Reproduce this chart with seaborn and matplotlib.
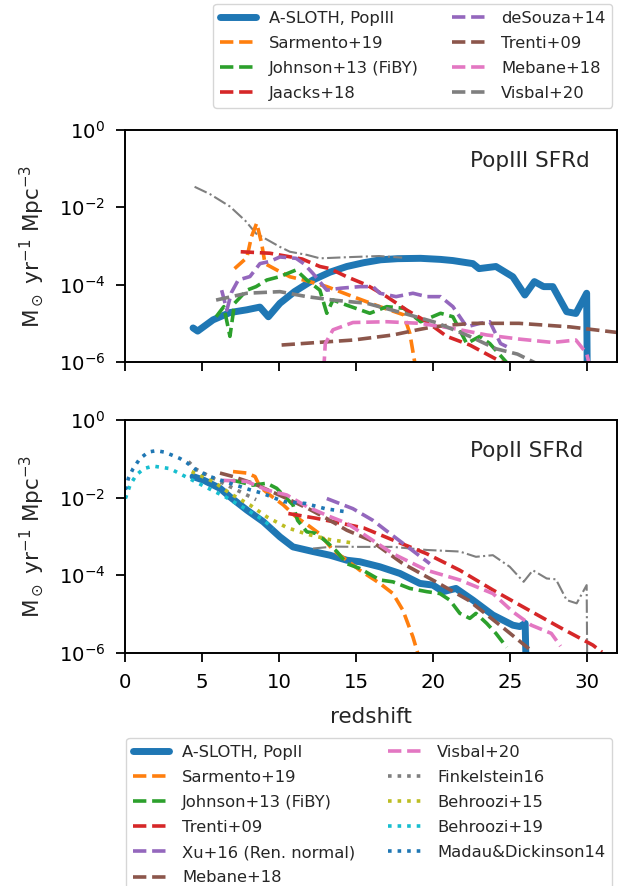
import matplotlib
matplotlib.use("Agg")
import matplotlib.pyplot as plt
import seaborn as sns
import numpy as np

sns.set_style("ticks")
plt.rcParams['font.family'] = ['DejaVu Sans']

C = sns.color_palette("tab10")

# ---------------- Pop III panel data ----------------
aslothIII_z = [4.4, 4.7, 5.7, 6.8, 7.9, 8.75, 9.3, 10.05, 11.0, 12.2, 13.3, 14.4, 15.5, 16.6, 17.7, 19.2,
               20.5, 21.3, 22.6, 23.0, 24.1, 25.2, 25.98, 26.6, 27.2, 27.8, 28.7, 29.3, 30.0, 30.05]
aslothIII_v = [7.6e-6, 6.3e-6, 1.23e-5, 1.9e-5, 2.24e-5, 2.63e-5, 1.48e-5, 3.3e-5, 6.6e-5, 1.32e-4, 2.1e-4,
               2.95e-4, 3.7e-4, 4.4e-4, 4.7e-4, 4.8e-4, 4.5e-4, 4.2e-4, 3.5e-4, 2.6e-4, 2.95e-4, 1.6e-4,
               5.4e-5, 1.2e-4, 8.9e-5, 8.9e-5, 2.0e-5, 1.8e-5, 6.0e-5, 1e-7]

sarmIII_z = [7.1, 7.9, 8.2, 8.54, 8.86, 9.08, 9.84, 10.7, 11.8, 13.1, 14.8, 16.55, 18.1, 18.5, 18.9]
sarmIII_v = [2.6e-4, 5.0e-4, 1.74e-3, 3.9e-3, 1.17e-3, 3.5e-4, 2.4e-4, 1.6e-4, 1.26e-4, 8.9e-5, 4.9e-5,
             2.7e-5, 1.66e-5, 5.5e-6, 6.3e-7]

johnIII_z = [5.9, 6.4, 6.8, 7.1, 7.9, 8.5, 9.2, 10.05, 11.1, 11.8, 12.65, 13.1, 13.5, 14.4, 15.9, 17.0, 18.1,
             19.2, 20.5, 21.3, 22.2, 23.05, 23.7, 25.0]
johnIII_v = [1.48e-5, 2.7e-5, 4.6e-6, 3.3e-5, 7.2e-5, 8.9e-5, 1.32e-4, 1.62e-4, 2.4e-4, 1.32e-4, 7.2e-5,
             1.82e-5, 4.0e-5, 2.95e-5, 1.82e-5, 2.7e-5, 2.45e-5, 1.1e-5, 1.82e-5, 1.48e-5, 3.0e-6, 4.6e-6,
             3.0e-6, 7.9e-7]

jaacksIII_z = [7.5, 9.4, 11.5, 12.65, 13.3, 14.4, 15.7, 17.0, 18.3, 19.6, 20.9, 22.4, 24.7]
jaacksIII_v = [7.1e-4, 6.5e-4, 4.6e-4, 2.95e-4, 2.6e-4, 1.6e-4, 9.8e-5, 4.9e-5, 2.2e-5, 1.1e-5, 4.6e-6,
               2.75e-6, 8.9e-7]

desouzaIII_z = [6.26, 6.6, 6.9, 7.34, 8.1, 8.75, 9.4, 10.05, 11.1, 11.6, 12.2, 13.1, 14.0, 15.25, 16.1, 16.55,
                17.6, 18.7, 19.6, 20.5, 21.3, 22.2, 23.05, 23.7, 24.4, 24.8]
desouzaIII_v = [7.2e-5, 2.2e-5, 6.3e-5, 1.32e-4, 1.62e-4, 3.5e-4, 4.0e-4, 5.2e-4, 4.8e-4, 3.5e-4, 1.95e-4,
                7.2e-5, 8.1e-5, 8.9e-5, 8.9e-5, 6.0e-5, 4.9e-5, 6.0e-5, 4.9e-5, 4.9e-5, 2.7e-5, 8.1e-6,
                1.0e-5, 1.1e-5, 3.0e-6, 2.5e-6]

trentiIII_z = [10.16, 12.5, 14.82, 17.4, 19.0, 20.0, 21.3, 22.6, 25.6, 28.9, 32.0]
trentiIII_v = [2.75e-6, 3.2e-6, 3.7e-6, 5.0e-6, 6.8e-6, 8.1e-6, 9.1e-6, 1.0e-5, 1.0e-5, 8.1e-6, 5.8e-6]

mebaneIII_z = [12.9, 13.0, 13.5, 14.8, 17.0, 19.15, 21.3, 23.5, 25.65, 27.8, 29.3, 30.0, 30.2]
mebaneIII_v = [6.3e-7, 3.0e-6, 6.8e-6, 1.05e-5, 1.1e-5, 1.0e-5, 7.4e-6, 5.0e-6, 3.9e-6, 3.2e-6, 3.7e-6,
               1.66e-6, 7.9e-7]

visbalIII_z = [5.9, 7.9, 10.05, 11.8, 13.5, 15.7, 18.1, 20.2, 22.4, 24.1, 25.5, 26.8]
visbalIII_v = [4.0e-5, 6.0e-5, 6.6e-5, 4.9e-5, 4.0e-5, 3.3e-5, 1.82e-5, 1.05e-5, 4.6e-6, 2.2e-6, 1.6e-6, 8.9e-7]

ddIII_z = [4.5, 5.5, 6.8, 7.8, 8.5, 9.3, 10.05, 10.7, 11.8, 12.65, 14.8, 16.5, 18.0]
ddIII_v = [3.4e-2, 2.2e-2, 1.05e-2, 4.5e-3, 2.1e-3, 1.4e-3, 9.5e-4, 7.1e-4, 5.9e-4, 4.8e-4, 5.2e-4, 5.5e-4, 5.0e-4]

# ---------------- Pop II panel data ----------------
aslothII_z = [4.4, 5.1, 6.15, 6.8, 7.9, 8.97, 10.05, 10.9, 12.2, 13.3, 14.4, 15.25, 16.55, 17.85, 19.15, 20.0,
              20.67, 21.5, 22.6, 23.9, 25.2, 25.65, 26.0, 26.1]
aslothII_v = [3.5e-2, 2.8e-2, 1.74e-2, 1.05e-2, 4.8e-3, 2.4e-3, 9.8e-4, 5.4e-4, 4.1e-4, 3.3e-4, 2.45e-4,
              2.24e-4, 1.66e-4, 1.12e-4, 6.2e-5, 5.6e-5, 3.8e-5, 4.6e-5, 2.3e-5, 9.5e-6, 5.2e-6, 4.8e-6,
              5.8e-6, 1e-7]

sarmII_z = [7.0, 7.9, 8.43, 8.75, 9.4, 10.27, 11.1, 12.0, 12.6, 13.5, 14.4, 15.25, 16.55, 17.4, 18.05, 18.7, 19.05]
sarmII_v = [4.7e-2, 4.3e-2, 3.5e-2, 1.9e-2, 1.17e-2, 6.5e-3, 3.2e-3, 1.8e-3, 1.2e-3, 4.5e-4, 2.45e-4, 1.35e-4,
            6.2e-5, 3.4e-5, 1.26e-5, 2.6e-6, 8.9e-7]

johnII_z = [7.0, 8.3, 9.2, 9.84, 10.9, 11.2, 11.8, 12.4, 13.1, 13.75, 14.4, 15.25, 16.55, 17.4, 18.5, 19.6,
            20.45, 21.1, 21.75, 22.4, 22.8, 23.5, 24.1, 24.8]
johnII_v = [2.8e-2, 2.1e-2, 2.35e-2, 1.74e-2, 6.5e-3, 2.6e-3, 1.32e-3, 1.2e-3, 7.2e-4, 4.1e-4, 2.0e-4, 1.5e-4,
            7.6e-5, 6.8e-5, 4.6e-5, 3.8e-5, 3.4e-5, 2.3e-5, 1.05e-5, 7.8e-6, 1.05e-5, 5.8e-6, 3.2e-6, 1.4e-6]

trentiII_z = [10.6, 12.4, 14.0, 15.5, 17.4, 19.6, 21.75, 23.9, 26.05, 28.2, 30.4, 31.0]
trentiII_v = [3.9e-3, 2.95e-3, 2.2e-3, 1.66e-3, 8.1e-4, 3.6e-4, 1.35e-4, 4.2e-5, 1.4e-5, 4.7e-6, 1.6e-6, 1.05e-6]

xuII_z = [13.1, 14.8, 16.1, 17.3, 18.5, 19.8]
xuII_v = [9.5e-3, 5.2e-3, 2.6e-3, 1.12e-3, 4.9e-4, 2.0e-4]

mebaneII_z = [6.15, 7.0, 8.3, 10.5, 11.9, 13.1, 14.4, 15.9, 18.05, 20.2, 22.3, 24.5, 26.5]
mebaneII_v = [4.3e-2, 3.5e-2, 2.35e-2, 9.5e-3, 5.2e-3, 2.9e-3, 1.45e-3, 8.1e-4, 2.0e-4, 6.8e-5, 2.3e-5,
              4.7e-6, 1.07e-6]

visbalII_z = [6.3, 7.9, 9.2, 10.5, 11.8, 13.1, 14.4, 15.25, 17.4, 19.6, 21.75, 23.9, 25.2, 26.4, 27.7, 28.3]
visbalII_v = [2.8e-2, 2.6e-2, 1.58e-2, 1.17e-2, 5.9e-3, 3.5e-3, 2.2e-3, 1.32e-3, 3.6e-4, 1.35e-4, 7.6e-5,
              3.4e-5, 1.15e-5, 5.2e-6, 3.2e-6, 1.5e-6]

finkel_z = [4.1, 4.6, 5.5, 6.5, 7.5, 8.5]
finkel_v = [8.5e-2, 5.4e-2, 3.5e-2, 2.2e-2, 1.4e-2, 8.9e-3]

behr15_z = [4.31, 5.72, 6.8, 8.1, 9.2, 10.5, 11.8, 13.3, 14.7]
behr15_v = [4.7e-2, 2.6e-2, 1.29e-2, 6.5e-3, 3.2e-3, 1.7e-3, 1.15e-3, 8.3e-4, 6.9e-4]

behr19_z = [0.0, 0.3, 0.7, 1.2, 1.8, 2.9, 3.9, 5.2, 6.5, 7.8, 9.0, 9.6]
behr19_v = [9.5e-3, 2.1e-2, 3.8e-2, 5.6e-2, 6.5e-2, 5.6e-2, 3.5e-2, 1.9e-2, 1.05e-2, 5.2e-3, 2.6e-3, 1.6e-3]

madau_z = [0.0, 0.2, 0.5, 0.95, 1.5, 2.0, 2.5, 3.0, 3.55, 4.0, 4.63, 5.5, 6.8, 8.1, 8.9, 10.3, 11.7, 13.0, 14.4]
madau_v = [1.6e-2, 3.2e-2, 5.6e-2, 1.02e-1, 1.5e-1, 1.62e-1, 1.5e-1, 1.26e-1, 1.02e-1, 7.9e-2, 5.1e-2,
           3.5e-2, 2.35e-2, 1.6e-2, 1.3e-2, 7.9e-3, 7.1e-3, 5.2e-3, 4.3e-3]

ddII_z = [12.2, 13.5, 15.25, 17.4, 19.6, 21.75, 22.8, 23.9, 25.0, 25.9, 26.5, 27.4, 28.0, 28.7, 29.35, 30.0, 30.05]
ddII_v = [4.9e-4, 5.5e-4, 5.4e-4, 5.4e-4, 4.5e-4, 4.1e-4, 3.0e-4, 3.3e-4, 1.66e-4, 6.8e-5, 1.35e-4, 8.3e-5,
          7.9e-5, 2.3e-5, 1.9e-5, 5.6e-5, 1e-7]

ytick_vals = [1e-6, 1e-4, 1e-2, 1e0]
xtick_vals = [0, 5, 10, 15, 20, 25, 30]

# ---------------- figure ----------------
W, H = 628, 886
fig = plt.figure(figsize=(W / 100, H / 100), dpi=100)
ax1 = fig.add_axes([125.4 / W, 1 - 362 / H, 492 / W, 232 / H])
ax2 = fig.add_axes([125.4 / W, 1 - 653 / H, 492 / W, 233 / H], sharex=ax1)

LW_D = 2.6
def line(ax, z, v, color, ls, lw, label=None, **kw):
    sns.lineplot(x=z, y=v, ax=ax, color=color, linestyle=ls, linewidth=lw, sort=False,
                 estimator=None, label=label, **kw)

# top panel
line(ax1, aslothIII_z, aslothIII_v, C[0], '-', 5, 'A-SLOTH, PopIII')
line(ax1, ddIII_z, ddIII_v, C[7], '-.', 1.5)
line(ax1, sarmIII_z, sarmIII_v, C[1], '--', LW_D, 'Sarmento+19')
line(ax1, johnIII_z, johnIII_v, C[2], '--', LW_D, 'Johnson+13 (FiBY)')
line(ax1, jaacksIII_z, jaacksIII_v, C[3], '--', LW_D, 'Jaacks+18')
line(ax1, desouzaIII_z, desouzaIII_v, C[4], '--', LW_D, 'deSouza+14')
line(ax1, trentiIII_z, trentiIII_v, C[5], '--', LW_D, 'Trenti+09')
line(ax1, mebaneIII_z, mebaneIII_v, C[6], '--', LW_D, 'Mebane+18')
line(ax1, visbalIII_z, visbalIII_v, C[7], '--', LW_D, 'Visbal+20')

# bottom panel
line(ax2, aslothII_z, aslothII_v, C[0], '-', 5, 'A-SLOTH, PopII')
line(ax2, ddII_z, ddII_v, C[7], '-.', 1.5)
line(ax2, sarmII_z, sarmII_v, C[1], '--', LW_D, 'Sarmento+19')
line(ax2, johnII_z, johnII_v, C[2], '--', LW_D, 'Johnson+13 (FiBY)')
line(ax2, trentiII_z, trentiII_v, C[3], '--', LW_D, 'Trenti+09')
line(ax2, xuII_z, xuII_v, C[4], '--', LW_D, 'Xu+16 (Ren. normal)')
line(ax2, mebaneII_z, mebaneII_v, C[5], '--', LW_D, 'Mebane+18')
line(ax2, visbalII_z, visbalII_v, C[6], '--', LW_D, 'Visbal+20')
line(ax2, finkel_z, finkel_v, C[7], ':', LW_D, 'Finkelstein16')
line(ax2, behr15_z, behr15_v, C[8], ':', LW_D, 'Behroozi+15')
line(ax2, behr19_z, behr19_v, C[9], ':', LW_D, 'Behroozi+19')
line(ax2, madau_z, madau_v, C[0], ':', LW_D, 'Madau&Dickinson14')

ylab = r'M$_\odot$ yr$^{-1}$ Mpc$^{-3}$'
legs = {}
for ax, txt in [(ax1, 'PopIII SFRd'), (ax2, 'PopII SFRd')]:
    ax.set_yscale('log')
    ax.set_ylim(1e-6, 1e0)
    ax.set_xlim(0, 32)
    ax.set_yticks(ytick_vals)
    ax.minorticks_off()
    ax.set_xticks(xtick_vals)
    ax.tick_params(axis='both', labelsize=14.2, length=6.3, width=1.3, pad=8, direction='out',
                   colors='black')
    ax.set_ylabel(ylab, fontsize=15.5, labelpad=9)
    for s in ax.spines.values():
        s.set_linewidth(1.4)
        s.set_color('black')
    ax.text(0.70, 0.868, txt, transform=ax.transAxes, fontsize=15.5, ha='left', va='center')
    legs[ax] = ax.get_legend_handles_labels()
    ax.get_legend().remove()

ax1.tick_params(axis='x', labelbottom=False)
ax1.set_xlabel('')
ax2.set_xlabel('redshift', fontsize=15.5, labelpad=11)

h1, l1 = legs[ax1]
fig.legend(h1, l1, ncol=2, loc='upper right', bbox_to_anchor=(612 / W, 1 - 4 / H),
           fontsize=11.8, handlelength=2.2, labelspacing=0.62, borderaxespad=0, frameon=True)
h2, l2 = legs[ax2]
fig.legend(h2, l2, ncol=2, loc='upper right', bbox_to_anchor=(612 / W, 1 - 738 / H),
           fontsize=11.8, handlelength=2.2, labelspacing=0.62, borderaxespad=0, frameon=True)

fig.savefig('out.png', dpi=100)
